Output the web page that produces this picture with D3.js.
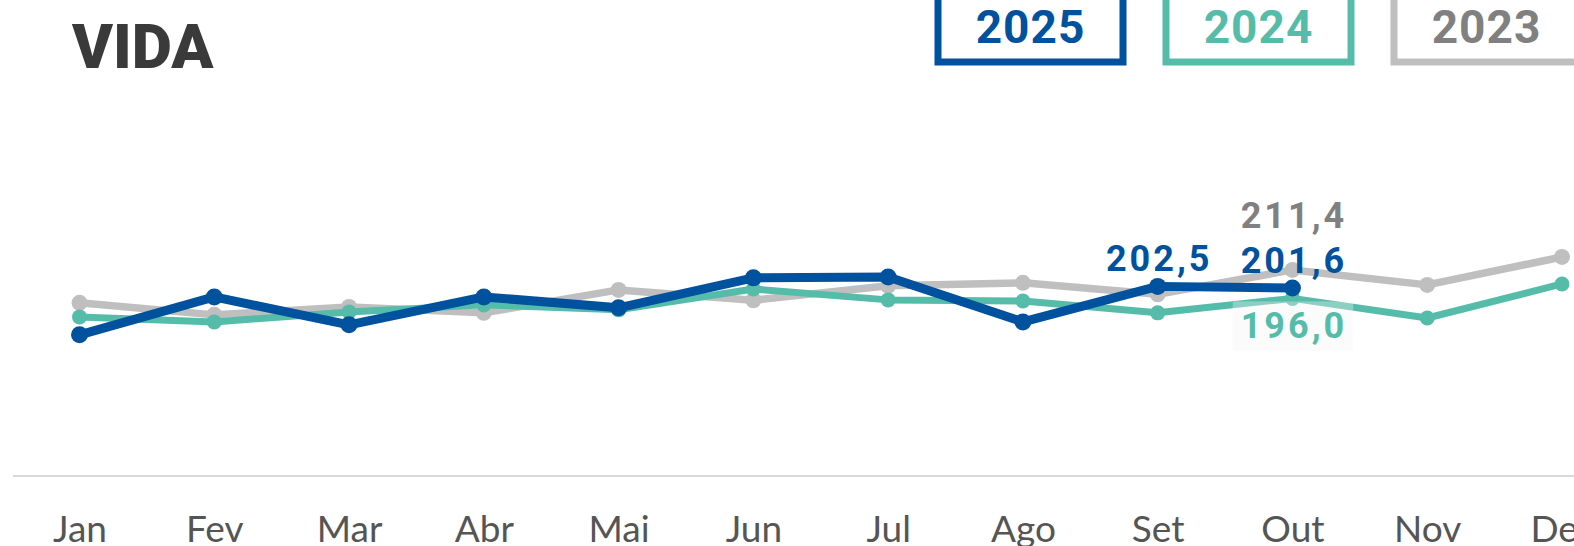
<!DOCTYPE html>
<html><head><meta charset="utf-8">
<script src="https://cdn.jsdelivr.net/npm/d3@7"></script>
<style>
html,body{margin:0;padding:0;background:#fff;overflow:hidden;}
svg{display:block;}
</style></head>
<body>
<svg id="chart" width="1574" height="546"></svg>
<script>
const months = ["Jan","Fev","Mar","Abr","Mai","Jun","Jul","Ago","Set","Out","Nov","Dez"];
const years = ["2025","2024","2023"];
const values2025 = [176.3,196.8,181.7,196.8,190.9,207.1,207.6,183.3,202.5,201.6];
const values2024 = [186.0,183.3,188.7,192.5,189.8,201.1,195.2,194.6,188.2,196.0,185.4,203.8];
const values2023 = [193.6,187.1,191.4,188.2,200.6,195.0,202.8,204.4,198.2,211.4,203.3,218.4];
const labels2025 = [{m:"Set", v:202.5},{m:"Out", v:201.6}];
const labels2024 = [{m:"Out", v:196.0}];
const labels2023 = [{m:"Out", v:211.4}];
const yDomain = [100, 300];

const colors = {"2025":"#00519e","2024":"#56bcaa","2023":"#bfbfbf"};
const textColors = {"2025":"#00519e","2024":"#56bcaa","2023":"#808080"};

const svg = d3.select("#chart");
const x = d3.scalePoint().domain(months).range([79.5, 1562]);
const y = d3.scaleLinear().domain(yDomain).range([476, 106]);

// title
svg.append("text").attr("x",72).attr("y",68)
  .attr("font-family","Roboto, 'DejaVu Sans', sans-serif").attr("font-weight",900)
  .attr("font-size",62).attr("letter-spacing",0).attr("fill","#3a3a3a").text("VIDA");

// legend
const lg = svg.append("g");
years.forEach((yr,i)=>{
  const lx = 938 + i*228;
  lg.append("rect").attr("x",lx).attr("y",-30).attr("width",185).attr("height",92)
    .attr("fill","none").attr("stroke",colors[yr]).attr("stroke-width",7);
  lg.append("text").attr("x",lx+92.5).attr("y",43).attr("text-anchor","middle")
    .attr("font-family","Roboto, sans-serif").attr("font-weight",700).attr("font-size",46)
    .attr("letter-spacing",1).attr("fill",textColors[yr]).text(yr);
});

// x axis
const xAxis = svg.append("g").attr("transform","translate(0,476)")
  .call(d3.axisBottom(x).tickSize(0).tickPadding(0));
xAxis.select(".domain").remove();
xAxis.append("line").attr("x1",13).attr("x2",1574).attr("y1",0).attr("y2",0)
  .attr("stroke","#d9d9d9").attr("stroke-width",2);
xAxis.selectAll(".tick text").attr("y",66).attr("dy",0)
  .attr("font-family","Lato, sans-serif").attr("font-size",37)
  .attr("fill","#555555");

// lines
const series = [
  {yr:"2023", vals:values2023, w:7.5, r:8},
  {yr:"2024", vals:values2024, w:7, r:7.5},
  {yr:"2025", vals:values2025, w:9, r:8.5}
];
const line = d3.line().x((d,i)=>x(months[i])).y(d=>y(d));
series.forEach(s=>{
  const g = svg.append("g");
  g.append("path").datum(s.vals).attr("d",line).attr("fill","none")
    .attr("stroke",colors[s.yr]).attr("stroke-width",s.w)
    .attr("stroke-linejoin","round").attr("stroke-linecap","round");
  g.selectAll("circle").data(s.vals).join("circle")
    .attr("cx",(d,i)=>x(months[i])).attr("cy",d=>y(d)).attr("r",s.r)
    .attr("fill",colors[s.yr]);
});

// value labels
const fmt = v => v.toFixed(1).replace(".",",");
function addLabel(lbl, yr, dy, bg){
  const g = svg.append("g");
  const t = g.append("text").attr("x",x(lbl.m)+1.5).attr("y",y(lbl.v)+dy)
    .attr("text-anchor","middle").attr("font-family","Roboto, sans-serif")
    .attr("font-weight",700).attr("font-size",36).attr("letter-spacing",3)
    .attr("fill",textColors[yr]).text(fmt(lbl.v));
  if(bg){
    const b = t.node().getBBox();
    g.insert("rect","text").attr("x",b.x-8).attr("y",b.y-4).attr("width",b.width+14).attr("height",b.height+8)
      .attr("fill","#f3f3f3").attr("opacity",0.35);
  }
}
labels2025.forEach(l=>addLabel(l,"2025",-15,false));
labels2023.forEach(l=>addLabel(l,"2023",-42,false));
labels2024.forEach(l=>addLabel(l,"2024",40,true));
</script>
</body></html>
